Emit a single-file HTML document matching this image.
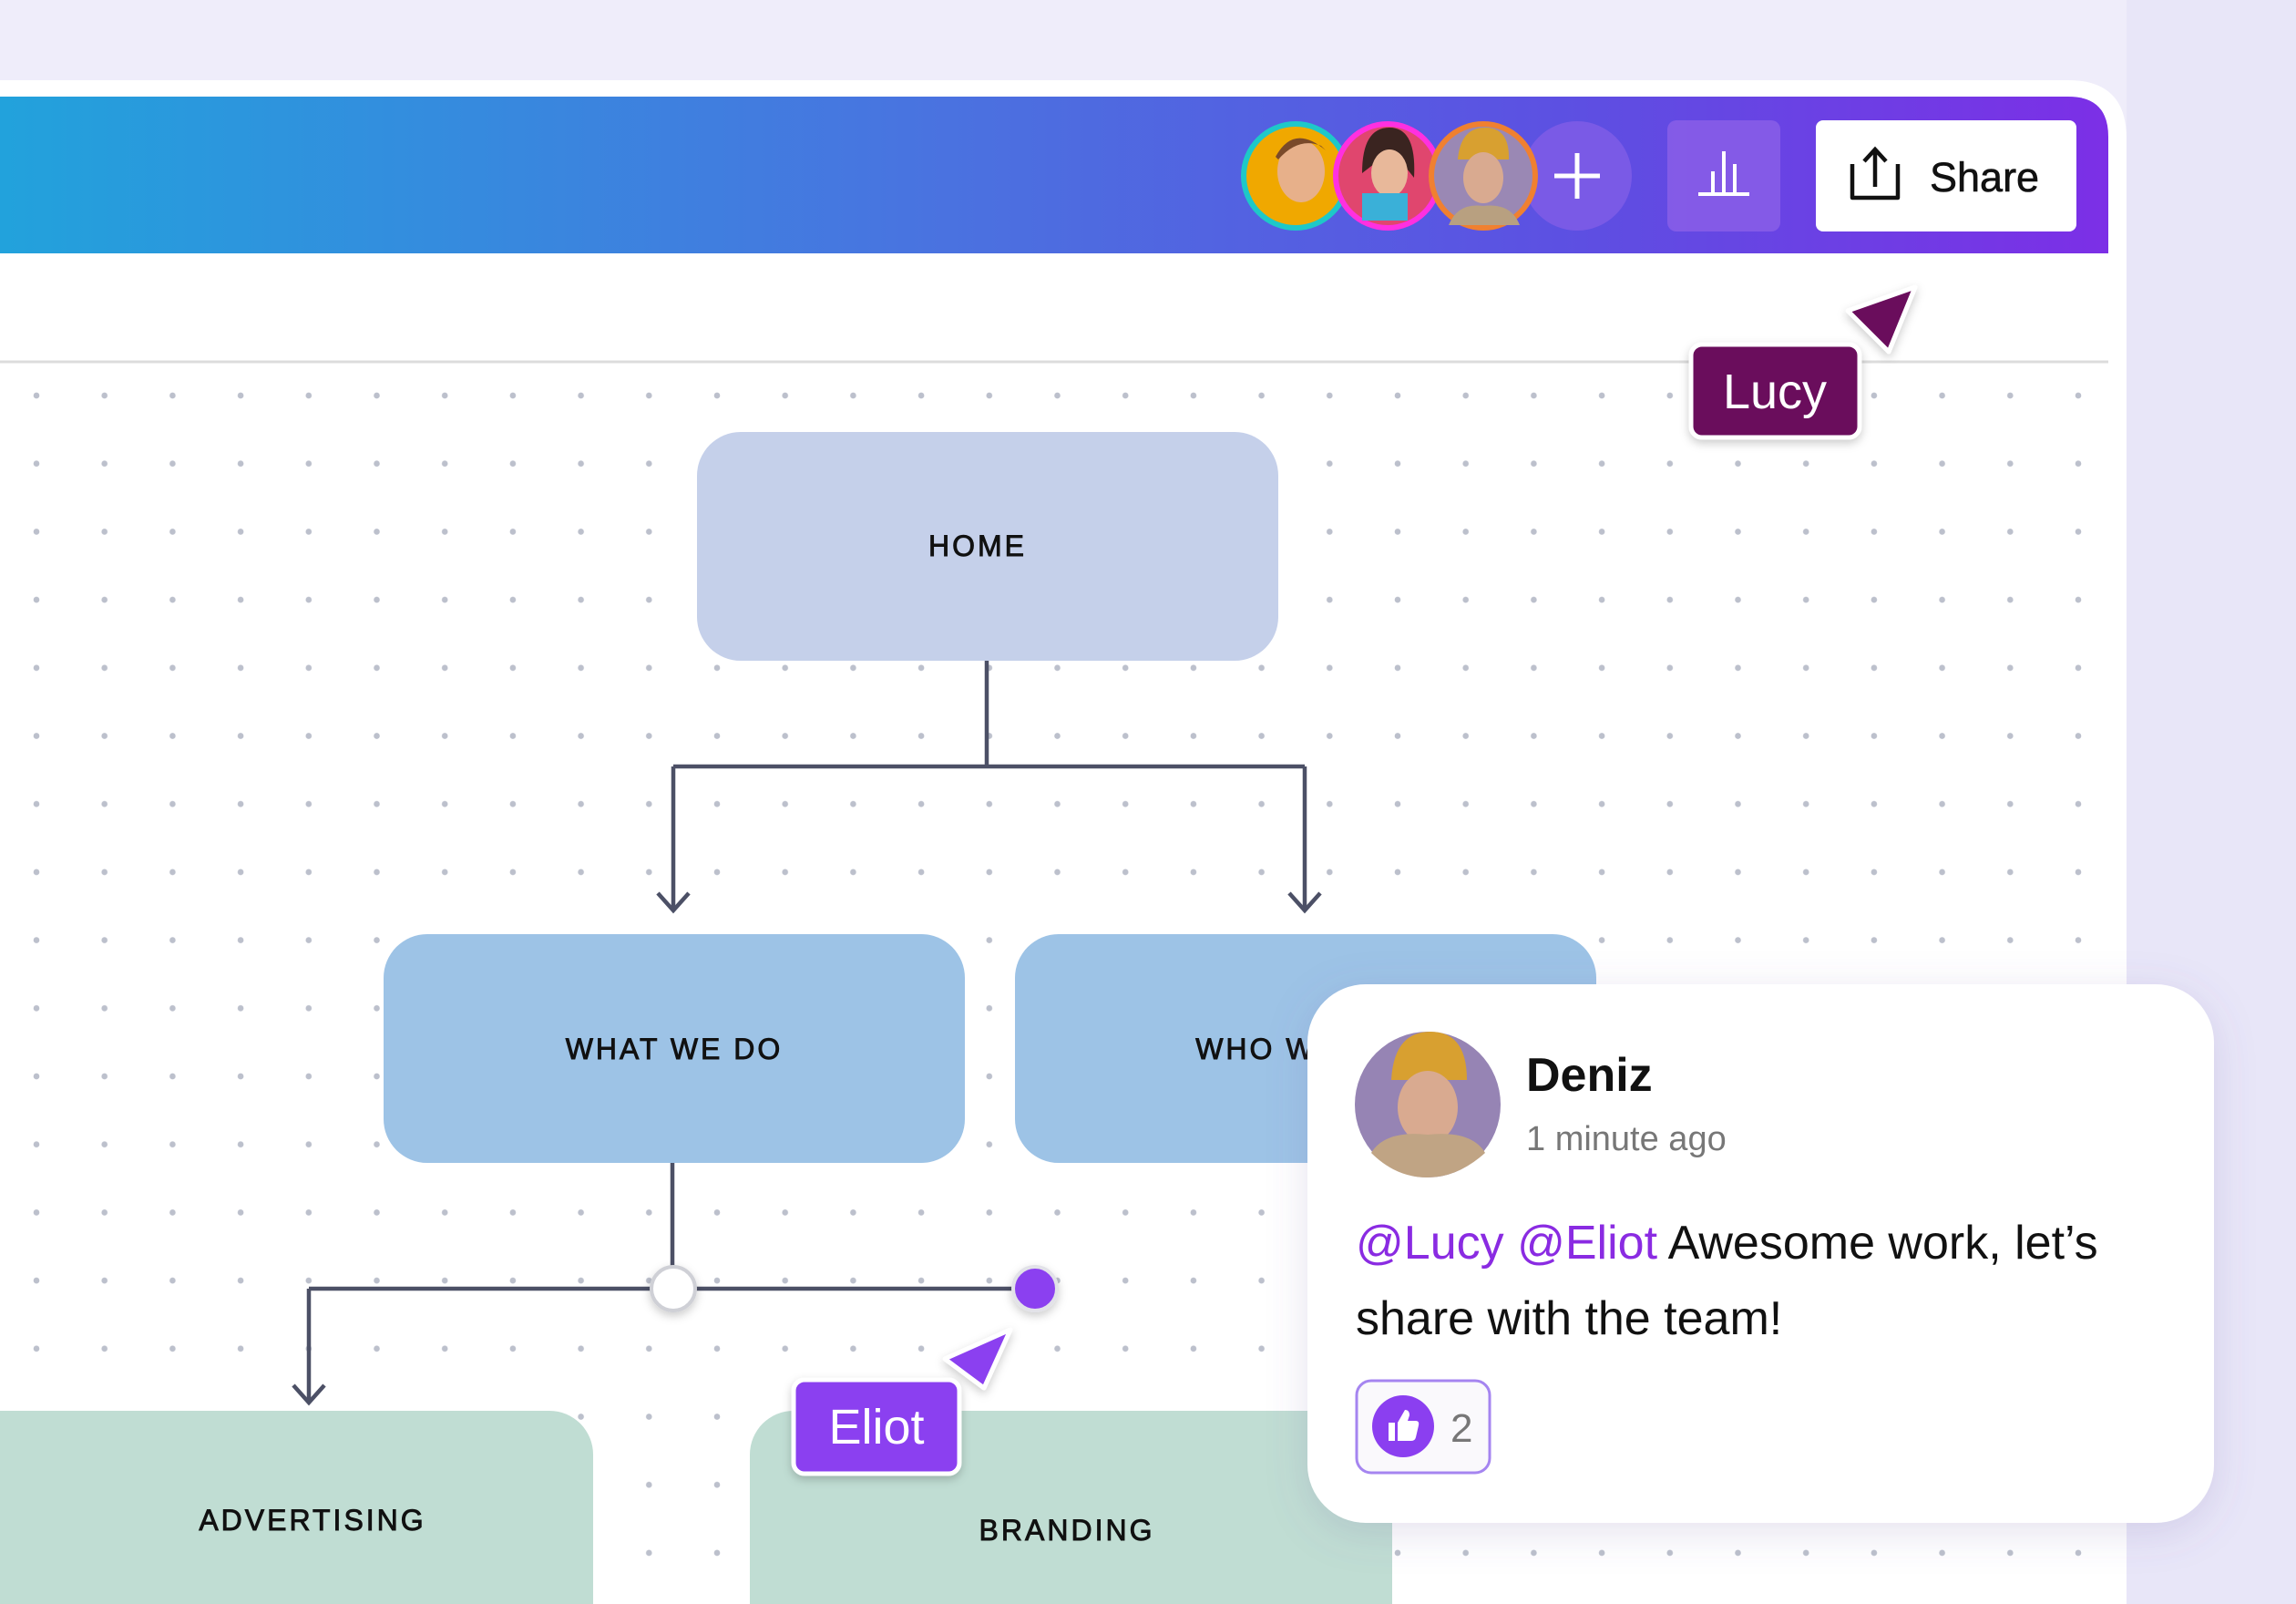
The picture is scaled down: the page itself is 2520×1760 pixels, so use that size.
<!DOCTYPE html>
<html><head><meta charset="utf-8"><style>
html,body{margin:0;padding:0;width:2520px;height:1760px;overflow:hidden;background:#efedfa;}
svg{display:block;font-family:"Liberation Sans",sans-serif;}
</style></head><body>
<svg width="2520" height="1760" viewBox="0 0 2520 1760" xmlns="http://www.w3.org/2000/svg">
<defs>
<linearGradient id="hdr" x1="0" x2="1" y1="0" y2="0">
<stop offset="0" stop-color="#22a2dc"/><stop offset="0.45" stop-color="#4a72e0"/><stop offset="0.75" stop-color="#5d4fe2"/><stop offset="1" stop-color="#7c2fe6"/>
</linearGradient>
<pattern id="dots" x="2.65" y="396.65" width="74.7" height="74.7" patternUnits="userSpaceOnUse">
<circle cx="37.35" cy="37.35" r="3.3" fill="#bcc0cc"/>
</pattern>
<filter id="sh" x="-10%" y="-10%" width="120%" height="130%"><feDropShadow dx="0" dy="10" stdDeviation="22" flood-color="#6a5aa0" flood-opacity="0.18"/></filter>
<filter id="sh2" x="-30%" y="-30%" width="160%" height="170%"><feDropShadow dx="0" dy="4" stdDeviation="5" flood-color="#000" flood-opacity="0.2"/></filter>
</defs>
<rect width="2520" height="1760" fill="#efedfa"/>
<rect x="2334" y="0" width="186" height="1760" fill="#e8e6f8"/>
<path d="M-20 88 H2270 Q2334 88 2334 152 V1760 H-20 Z" fill="#ffffff"/>
<path d="M0 106 H2270 Q2314 106 2314 150 V278 H0 Z" fill="url(#hdr)"/>
<line x1="0" y1="397" x2="2314" y2="397" stroke="#dcdcdc" stroke-width="3"/>
<rect x="0" y="400" width="2314" height="1360" fill="url(#dots)"/>
<circle cx="1731" cy="193" r="60" fill="#7a5ae6"/>
<line x1="1706" y1="193" x2="1756" y2="193" stroke="#fff" stroke-width="5"/>
<line x1="1731" y1="168" x2="1731" y2="218" stroke="#fff" stroke-width="5"/>
<circle cx="1422" cy="193" r="60" fill="#1ec8c8"/><circle cx="1422" cy="193" r="54" fill="#f0a800"/>
<ellipse cx="1428" cy="188" rx="26" ry="34" fill="#e7b08a"/><path d="M1400 172 Q1420 135 1455 165 L1450 160 Q1425 150 1403 175Z" fill="#7a4a2a"/>
<circle cx="1523" cy="193" r="60" fill="#ff30e0"/><circle cx="1523" cy="193" r="54" fill="#e0466e"/>
<path d="M1495 190 Q1495 140 1525 140 Q1555 140 1552 195 L1540 180 L1508 180Z" fill="#3a2420"/><ellipse cx="1525" cy="190" rx="20" ry="26" fill="#e8b89a"/><rect x="1495" y="212" width="50" height="30" fill="#3ab0d8"/>
<circle cx="1628" cy="193" r="60" fill="#f08030"/><circle cx="1628" cy="193" r="54" fill="#9a88b4"/>
<path d="M1600 175 Q1603 140 1630 140 Q1657 140 1656 175Z" fill="#d8a030"/><ellipse cx="1628" cy="195" rx="22" ry="28" fill="#d9aa90"/><path d="M1590 247 Q1600 222 1628 226 Q1658 222 1668 247Z" fill="#b8a080"/>
<rect x="1830" y="132" width="124" height="122" rx="10" fill="#8a5ee8" fill-opacity="0.85"/>
<g stroke="#fff" stroke-width="4"><line x1="1864" y1="213" x2="1920" y2="213"/><line x1="1880" y1="213" x2="1880" y2="188"/><line x1="1892" y1="213" x2="1892" y2="166"/><line x1="1904" y1="213" x2="1904" y2="180"/></g>
<rect x="1993" y="132" width="286" height="122" rx="8" fill="#fff"/>
<path d="M2033 180 V217 H2083 V180" fill="none" stroke="#111" stroke-width="4.5" stroke-linejoin="round"/>
<path d="M2058 205 V166 M2046 177 L2058 164 L2070 177" fill="none" stroke="#111" stroke-width="4.5"/>
<text x="2118" y="210" font-size="45" fill="#111" stroke="#111" stroke-width="0.6">Share</text>
<g stroke="#4c5066" stroke-width="4.5" fill="none">
<path d="M1083 725 V841 M739 841 H1432 M739 841 V998 M1432 841 V998"/>
<path d="M722 980 L739 999 L756 980 M1415 980 L1432 999 L1449 980"/>
<path d="M738 1276 V1414 M339 1414 H1136 M339 1414 V1538"/>
<path d="M322 1520 L339 1539 L356 1520"/>
</g>
<g font-size="32" letter-spacing="3" text-anchor="middle" fill="#111" stroke="#111" stroke-width="0.9">
<rect x="765" y="474" width="638" height="251" rx="48" fill="#c5d0ea" stroke="none"/>
<text x="1073" y="610">HOME</text>
<rect x="421" y="1025" width="638" height="251" rx="48" fill="#9dc3e6" stroke="none"/>
<text x="740" y="1162">WHAT WE DO</text>
<rect x="1114" y="1025" width="638" height="251" rx="48" fill="#9dc3e6" stroke="none"/>
<text x="1433" y="1162">WHO WE ARE</text>
<rect x="-60" y="1548" width="711" height="300" rx="48" fill="#c0ddd3" stroke="none"/>
<text x="343" y="1679">ADVERTISING</text>
<rect x="823" y="1548" width="705" height="300" rx="48" fill="#c0ddd3" stroke="none"/>
<text x="1171" y="1690">BRANDING</text>
</g>
<circle cx="739" cy="1414" r="24" fill="#fff" stroke="#cfd0d6" stroke-width="4" filter="url(#sh2)"/>
<circle cx="1136" cy="1414" r="24" fill="#8b3ff0" stroke="#e2e2e8" stroke-width="4" filter="url(#sh2)"/>
<path d="M1037 1491 L1109 1459 L1080 1523 Z" fill="#8b3ff0" stroke="#fff" stroke-width="5" stroke-linejoin="round" filter="url(#sh2)"/>
<rect x="871" y="1514" width="182" height="103" rx="12" fill="#8b3ff0" stroke="#fff" stroke-width="5" filter="url(#sh2)"/>
<text x="962" y="1584" font-size="54" text-anchor="middle" fill="#fff">Eliot</text>
<path d="M2028 341 L2102 315 L2073 386 Z" fill="#6a0b5c" stroke="#fff" stroke-width="5" stroke-linejoin="round" filter="url(#sh2)"/>
<rect x="1856" y="378" width="185" height="102" rx="12" fill="#6a0b5c" stroke="#fff" stroke-width="5" filter="url(#sh2)"/>
<text x="1948" y="448" font-size="54" text-anchor="middle" fill="#fff">Lucy</text>
<rect x="1435" y="1080" width="995" height="591" rx="64" fill="#fff" filter="url(#sh)"/>
<circle cx="1567" cy="1212" r="80" fill="#9684b4"/>
<path d="M1527 1185 Q1530 1132 1570 1132 Q1610 1132 1610 1185Z" fill="#d8a030"/>
<ellipse cx="1567" cy="1215" rx="33" ry="40" fill="#d9aa90"/>
<path d="M1505 1265 Q1520 1240 1567 1245 Q1615 1240 1630 1265 Q1600 1292 1567 1292 Q1532 1292 1505 1265Z" fill="#c0a484"/>
<text x="1675" y="1197" font-size="52" font-weight="bold" fill="#111">Deniz</text>
<text x="1675" y="1262" font-size="38" fill="#777">1 minute ago</text>
<text x="1488" y="1381" font-size="52" fill="#111"><tspan fill="#8a2be2">@Lucy @Eliot</tspan> Awesome work, let’s</text>
<text x="1488" y="1464" font-size="52" fill="#111">share with the team!</text>
<rect x="1489" y="1515" width="146" height="101" rx="16" fill="#faf9fc" stroke="#a585f0" stroke-width="3"/>
<circle cx="1540" cy="1565" r="34" fill="#8b3ff0"/>
<path d="M1524 1561 h7 v20 h-7 z M1534 1561 l8 -14 q5 0 5 6 l-2 6 h9 q4 0 3 5 l-3 13 q-1 4 -5 4 h-15 z" fill="#fff"/>
<text x="1592" y="1582" font-size="44" fill="#777">2</text>
</svg>
</body></html>
